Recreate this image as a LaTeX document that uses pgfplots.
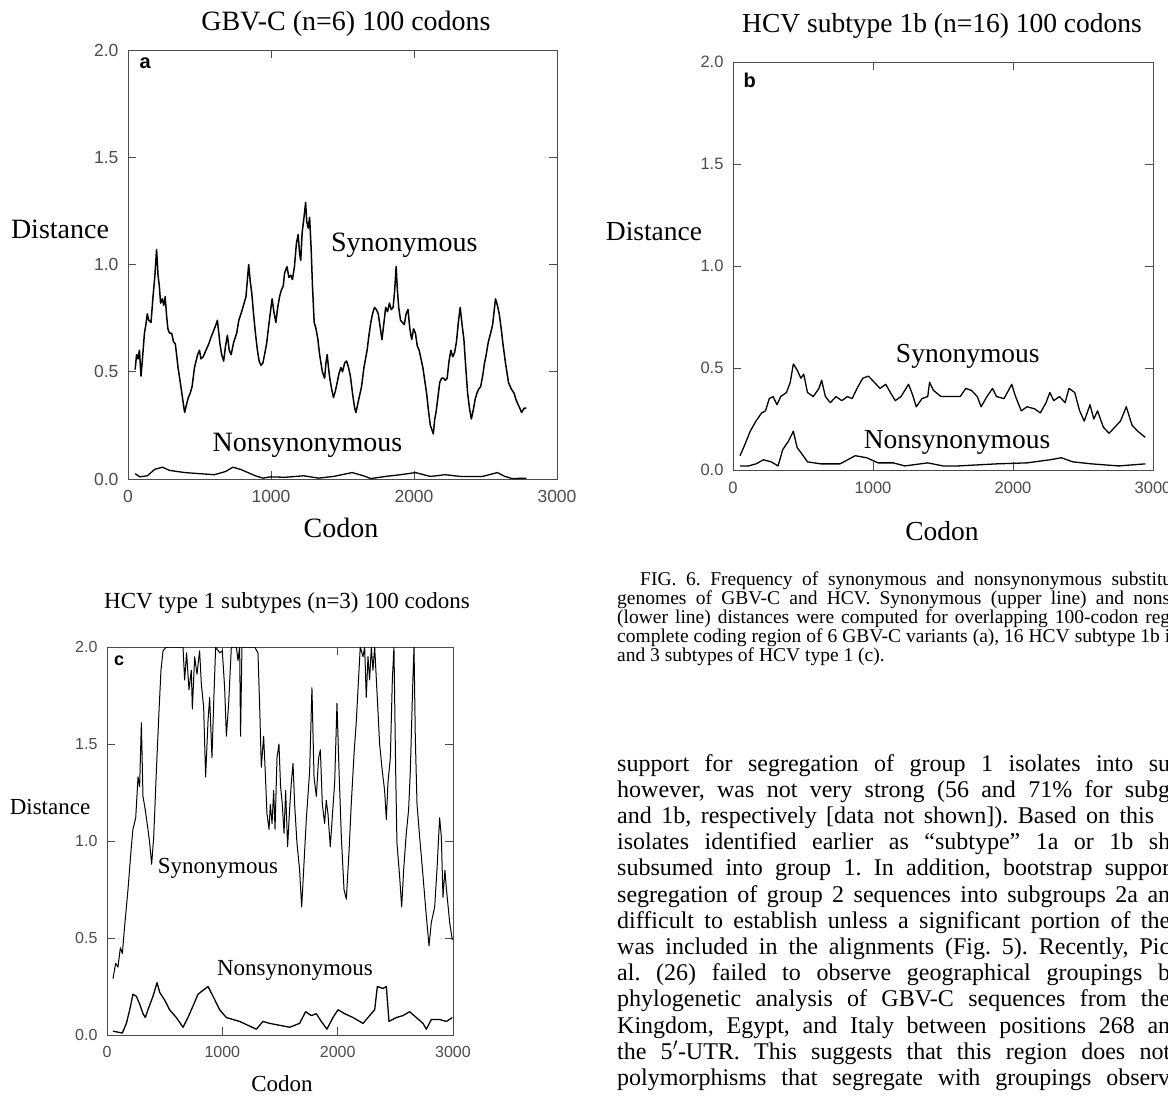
\documentclass[border=0pt]{standalone}
\usepackage{fontspec}
\setmainfont{Liberation Serif}
\newfontfamily\helv{Liberation Sans}
\usepackage{pgfplots}
\pgfplotsset{compat=1.18}
\pgfplotsset{panel/.style={scale only axis, xmin=0, xmax=3000, ymin=0, ymax=2,
  xtick={0,1000,2000,3000}, ytick={0,0.5,1,1.5,2},
  tick align=inside, major tick length=8pt,
  axis line style={line width=0.9pt, black!70},
  every tick/.style={line width=0.9pt, black!70},
  /pgf/number format/assume math mode=true,
  xticklabel style={/pgf/number format/1000 sep={}, yshift=-8pt},
  yticklabel style={/pgf/number format/fixed, /pgf/number format/fixed zerofill, /pgf/number format/precision=1, xshift=-6pt},
  tick label style={text=black!70},
  clip=true}}
\tikzset{curve/.style={black, no markers, line width=1.3pt, line join=round}}
\frenchspacing
\begin{document}
\begin{tikzpicture}
\useasboundingbox (0,0) rectangle (1168pt,-1097pt);
\clip (0,0) rectangle (1168pt,-1097pt);
\fill[white] (0,0) rectangle (1168pt,-1097pt);

% ---------- panel a ----------
\begin{axis}[panel, at={(128pt,-479pt)}, anchor=south west, width=429pt, height=429pt,
  tick label style={font=\helv\fontsize{17.5}{20}\selectfont}]
\addplot[curve, line width=1.5pt] coordinates {(50,0.51)(60,0.58)(70,0.56)(80,0.60)(91,0.48)(100,0.55)(115,0.68)(125,0.72)(135,0.77)(145,0.74)(161,0.73)(175,0.85)(187,0.94)(195,1.02)(200,1.07)(210,0.95)(219,0.90)(228,0.82)(240,0.84)(250,0.81)(260,0.85)(270,0.76)(279,0.70)(290,0.68)(305,0.68)(318,0.64)(331,0.63)(350,0.52)(370,0.43)(385,0.36)(396,0.31)(410,0.35)(422,0.38)(435,0.40)(448,0.43)(465,0.52)(487,0.58)(500,0.60)(510,0.56)(526,0.57)(545,0.60)(565,0.63)(580,0.66)(604,0.70)(615,0.72)(625,0.74)(635,0.68)(643,0.63)(655,0.58)(669,0.55)(682,0.62)(695,0.67)(708,0.60)(721,0.58)(740,0.64)(760,0.68)(775,0.74)(790,0.77)(799,0.79)(812,0.82)(825,0.85)(835,0.93)(844,1.00)(855,0.92)(865,0.87)(878,0.77)(891,0.68)(905,0.60)(917,0.55)(930,0.53)(943,0.54)(955,0.58)(969,0.63)(985,0.72)(1000,0.80)(1008,0.84)(1020,0.78)(1034,0.73)(1047,0.80)(1060,0.85)(1072,0.88)(1086,0.90)(1095,0.96)(1112,0.99)(1125,0.94)(1138,0.95)(1150,0.93)(1164,0.99)(1178,1.10)(1190,1.14)(1200,1.05)(1208,1.02)(1218,1.15)(1229,1.21)(1236,1.25)(1242,1.29)(1250,1.20)(1260,1.17)(1270,1.22)(1281,1.07)(1290,0.90)(1302,0.73)(1315,0.70)(1328,0.65)(1340,0.58)(1352,0.53)(1359,0.50)(1375,0.47)(1384,0.54)(1393,0.58)(1402,0.52)(1411,0.47)(1424,0.42)(1437,0.38)(1450,0.41)(1463,0.45)(1475,0.49)(1489,0.52)(1500,0.50)(1515,0.54)(1529,0.55)(1542,0.52)(1555,0.48)(1570,0.40)(1585,0.33)(1594,0.31)(1610,0.36)(1633,0.43)(1650,0.52)(1672,0.60)(1685,0.67)(1698,0.73)(1710,0.77)(1724,0.80)(1737,0.79)(1750,0.77)(1763,0.71)(1776,0.65)(1790,0.73)(1802,0.80)(1815,0.78)(1828,0.82)(1841,0.79)(1854,0.80)(1865,0.88)(1875,0.99)(1884,0.88)(1893,0.80)(1906,0.74)(1919,0.73)(1932,0.72)(1945,0.77)(1958,0.79)(1971,0.70)(1984,0.65)(1997,0.70)(2010,0.68)(2023,0.62)(2036,0.60)(2049,0.56)(2062,0.52)(2075,0.46)(2088,0.40)(2101,0.32)(2114,0.25)(2125,0.23)(2135,0.21)(2145,0.28)(2154,0.31)(2167,0.38)(2180,0.45)(2193,0.47)(2206,0.47)(2219,0.46)(2232,0.47)(2245,0.55)(2258,0.60)(2271,0.57)(2284,0.59)(2297,0.64)(2310,0.73)(2323,0.80)(2336,0.72)(2349,0.65)(2362,0.52)(2375,0.40)(2388,0.33)(2401,0.28)(2414,0.32)(2427,0.37)(2440,0.40)(2453,0.42)(2466,0.43)(2480,0.48)(2493,0.54)(2505,0.58)(2520,0.64)(2536,0.68)(2550,0.72)(2560,0.78)(2570,0.84)(2583,0.81)(2596,0.77)(2610,0.70)(2622,0.63)(2640,0.54)(2661,0.45)(2680,0.42)(2700,0.40)(2713,0.37)(2726,0.35)(2740,0.33)(2752,0.31)(2770,0.33)(2786,0.33)};
\addplot[curve] coordinates {(50,0.025)(83,0.01)(135,0.015)(187,0.045)(240,0.055)(292,0.04)(396,0.03)(500,0.025)(604,0.02)(682,0.035)(734,0.055)(786,0.045)(891,0.015)(943,0.004)(995,0.01)(1099,0.008)(1229,0.015)(1333,0.004)(1437,0.012)(1568,0.03)(1646,0.015)(1698,0.002)(1802,0.012)(1906,0.02)(2010,0.03)(2114,0.012)(2219,0.02)(2323,0.012)(2479,0.012)(2583,0.03)(2635,0.012)(2687,0.002)(2786,0.004)};
\node[font=\fontsize{28}{32}\selectfont] at (axis cs:1932,1.09) {Synonymous};
\node[font=\fontsize{28}{32}\selectfont] at (axis cs:1255,0.155) {Nonsynonymous};
\node[font=\helv\bfseries\fontsize{20}{24}\selectfont] at (rel axis cs:0.04,0.97) {a};
\end{axis}
\node[font=\fontsize{28}{32}\selectfont] at (346pt,-24pt) {GBV-C (n=6) 100 codons};
\node[font=\fontsize{28}{32}\selectfont] at (60pt,-229pt) {Distance};
\node[font=\fontsize{28}{32}\selectfont] at (341pt,-528pt) {Codon};

% ---------- panel b ----------
\begin{axis}[panel, at={(733pt,-470pt)}, anchor=south west, width=420pt, height=408pt,
  tick label style={font=\helv\fontsize{16.5}{20}\selectfont}]
\addplot[curve] coordinates {(50,0.07)(82,0.12)(123,0.19)(164,0.24)(205,0.28)(232,0.29)(259,0.35)(286,0.36)(314,0.32)(341,0.36)(382,0.38)(409,0.43)(431,0.52)(458,0.49)(485,0.45)(505,0.47)(532,0.38)(573,0.36)(614,0.40)(633,0.44)(660,0.36)(695,0.33)(736,0.36)(777,0.34)(818,0.36)(851,0.35)(886,0.40)(927,0.45)(968,0.46)(1009,0.43)(1050,0.40)(1091,0.42)(1124,0.38)(1159,0.34)(1200,0.36)(1254,0.42)(1282,0.37)(1309,0.31)(1350,0.35)(1391,0.36)(1404,0.43)(1432,0.39)(1486,0.36)(1554,0.36)(1623,0.36)(1663,0.40)(1704,0.39)(1745,0.36)(1772,0.31)(1814,0.36)(1854,0.40)(1882,0.36)(1936,0.35)(1991,0.42)(2018,0.36)(2059,0.29)(2100,0.31)(2154,0.30)(2195,0.28)(2236,0.33)(2263,0.38)(2291,0.34)(2332,0.36)(2372,0.33)(2400,0.40)(2441,0.38)(2476,0.29)(2509,0.24)(2550,0.32)(2577,0.25)(2604,0.29)(2645,0.21)(2686,0.18)(2727,0.21)(2768,0.24)(2809,0.31)(2850,0.22)(2891,0.19)(2945,0.16)};
\addplot[curve] coordinates {(50,0.02)(110,0.02)(164,0.03)(218,0.05)(273,0.04)(322,0.02)(355,0.10)(395,0.14)(431,0.19)(458,0.11)(491,0.08)(532,0.04)(627,0.03)(764,0.03)(873,0.07)(955,0.06)(1036,0.035)(1145,0.035)(1227,0.02)(1391,0.035)(1500,0.02)(1609,0.02)(1882,0.03)(2100,0.035)(2263,0.05)(2345,0.06)(2427,0.04)(2563,0.03)(2754,0.02)(2945,0.03)};
\node[font=\fontsize{27.5}{32}\selectfont] at (axis cs:1677,0.556) {Synonymous};
\node[font=\fontsize{27.5}{32}\selectfont] at (axis cs:1600,0.136) {Nonsynonymous};
\node[font=\helv\bfseries\fontsize{20}{24}\selectfont] at (rel axis cs:0.04,0.955) {b};
\end{axis}
\node[font=\fontsize{27.5}{32}\selectfont] at (942pt,-26pt) {HCV subtype 1b (n=16) 100 codons};
\node[font=\fontsize{27.5}{32}\selectfont] at (654pt,-232pt) {Distance};
\node[font=\fontsize{27.5}{32}\selectfont] at (942pt,-531pt) {Codon};

% ---------- panel c ----------
\begin{axis}[panel, at={(107pt,-1035pt)}, anchor=south west, width=346pt, height=388pt,
  tick label style={font=\helv\fontsize{16}{20}\selectfont}]
\addplot[curve, line width=1pt] coordinates {(52,0.29)(75,0.37)(95,0.35)(116,0.45)(133,0.42)(153,0.56)(182,0.75)(211,0.97)(225,1.06)(249,1.12)(269,1.33)(283,1.28)(298,1.61)(312,1.23)(332,1.16)(355,1.06)(370,0.99)(387,0.88)(405,1.02)(428,1.36)(451,1.67)(468,1.88)(486,1.98)(514,2.0)(659,2.0)(673,1.83)(690,1.97)(711,1.78)(731,1.88)(740,1.68)(760,1.95)(780,1.86)(803,1.98)(818,1.81)(838,1.69)(855,1.33)(876,1.62)(890,1.74)(910,1.43)(925,1.71)(942,2.0)(977,1.97)(1000,1.98)(1020,1.79)(1035,1.54)(1055,1.71)(1078,2.0)(1122,2.0)(1136,1.93)(1150,2.0)(1158,1.54)(1170,2.0)(1280,2.0)(1309,1.97)(1323,1.71)(1338,1.38)(1358,1.54)(1372,1.36)(1387,1.14)(1405,1.06)(1416,1.19)(1431,1.09)(1445,1.26)(1457,1.06)(1474,1.43)(1491,1.50)(1505,1.28)(1520,1.19)(1535,1.04)(1549,1.26)(1566,0.97)(1583,1.16)(1598,1.30)(1613,1.40)(1627,1.19)(1647,0.99)(1670,0.85)(1688,0.66)(1705,0.85)(1728,1.11)(1757,1.36)(1777,1.79)(1795,1.33)(1815,1.23)(1835,1.43)(1850,1.47)(1867,1.19)(1887,1.09)(1901,1.21)(1916,1.14)(1936,0.97)(1953,1.12)(1974,1.30)(1994,1.71)(2012,1.36)(2032,1.02)(2055,0.75)(2075,0.70)(2098,0.94)(2118,1.19)(2142,1.45)(2162,1.62)(2185,1.88)(2196,2.0)(2220,1.95)(2234,2.0)(2248,1.74)(2263,1.95)(2277,1.83)(2292,2.0)(2306,1.88)(2321,2.0)(2364,1.50)(2387,1.36)(2407,1.26)(2422,1.11)(2436,1.30)(2457,1.43)(2474,1.83)(2488,2.0)(2503,1.36)(2514,0.99)(2537,0.82)(2555,0.66)(2572,0.85)(2595,1.04)(2615,1.16)(2630,1.36)(2653,1.85)(2662,2.0)(2673,1.54)(2688,1.19)(2711,1.02)(2740,0.82)(2769,0.61)(2792,0.46)(2812,0.58)(2841,0.66)(2861,0.85)(2884,1.12)(2899,1.02)(2913,0.71)(2930,0.85)(2942,0.76)(2971,0.58)(2994,0.49)};
\addplot[curve] coordinates {(52,0.02)(133,0.01)(168,0.06)(197,0.13)(225,0.21)(254,0.20)(283,0.16)(312,0.11)(332,0.09)(355,0.13)(399,0.20)(434,0.27)(457,0.22)(500,0.18)(543,0.13)(601,0.09)(659,0.04)(702,0.09)(746,0.15)(789,0.21)(832,0.23)(876,0.25)(919,0.20)(977,0.13)(1035,0.09)(1092,0.08)(1150,0.07)(1222,0.05)(1295,0.03)(1352,0.07)(1410,0.06)(1497,0.05)(1584,0.04)(1670,0.06)(1722,0.12)(1772,0.10)(1815,0.11)(1858,0.07)(1907,0.03)(1959,0.09)(2003,0.13)(2061,0.11)(2133,0.09)(2220,0.06)(2277,0.10)(2321,0.13)(2344,0.25)(2393,0.24)(2422,0.25)(2445,0.07)(2508,0.09)(2566,0.10)(2624,0.12)(2682,0.09)(2740,0.06)(2769,0.03)(2812,0.08)(2884,0.08)(2942,0.07)(2994,0.09)};
\node[font=\fontsize{23}{27}\selectfont] at (axis cs:962,0.86) {Synonymous};
\node[font=\fontsize{23}{27}\selectfont] at (axis cs:1630,0.335) {Nonsynonymous};
\node[font=\helv\bfseries\fontsize{18}{22}\selectfont] at (rel axis cs:0.035,0.965) {c};
\end{axis}
\node[font=\fontsize{23}{27}\selectfont] at (287pt,-603pt) {HCV type 1 subtypes (n=3) 100 codons};
\node[font=\fontsize{23}{27}\selectfont] at (50pt,-807pt) {Distance};
\node[font=\fontsize{23}{27}\selectfont] at (282pt,-1084pt) {Codon};

% ---------- caption ----------
\begin{scope}[every node/.style={anchor=base west, inner sep=0pt, font=\fontsize{19.5}{19}\selectfont}]
\node at (640pt,-585pt) {\makebox[532pt][s]{FIG. 6. Frequency of synonymous and nonsynonymous substitu}};
\node at (617pt,-604pt) {\makebox[553pt][s]{genomes of GBV-C and HCV. Synonymous (upper line) and nons}};
\node at (617pt,-623pt) {\makebox[553pt][s]{(lower line) distances were computed for overlapping 100-codon reg}};
\node at (617pt,-642pt) {\makebox[553pt][s]{complete coding region of 6 GBV-C variants (a), 16 HCV subtype 1b i}};
\node at (617pt,-661pt) {and 3 subtypes of HCV type 1 (c).};
\end{scope}

% ---------- body text ----------
\begin{scope}[every node/.style={anchor=base west, inner sep=0pt, font=\fontsize{24}{26}\selectfont}]
\node at (617pt,-771pt) {\makebox[553pt][s]{support for segregation of group 1 isolates into su}};
\node at (617pt,-797.2pt) {\makebox[553pt][s]{however, was not very strong (56 and 71\% for subg}};
\node at (617pt,-823.4pt) {\makebox[553pt][s]{and 1b, respectively [data not shown]). Based on this\hspace{16pt}}};
\node at (617pt,-849.6pt) {\makebox[553pt][s]{isolates identified earlier as “subtype” 1a or 1b sh}};
\node at (617pt,-875.8pt) {\makebox[553pt][s]{subsumed into group 1. In addition, bootstrap suppor}};
\node at (617pt,-902pt) {\makebox[553pt][s]{segregation of group 2 sequences into subgroups 2a an}};
\node at (617pt,-928.2pt) {\makebox[553pt][s]{difficult to establish unless a significant portion of the}};
\node at (617pt,-954.4pt) {\makebox[553pt][s]{was included in the alignments (Fig. 5). Recently, Pic}};
\node at (617pt,-980.6pt) {\makebox[553pt][s]{al. (26) failed to observe geographical groupings b}};
\node at (617pt,-1006.8pt) {\makebox[553pt][s]{phylogenetic analysis of GBV-C sequences from the}};
\node at (617pt,-1033pt) {\makebox[553pt][s]{Kingdom, Egypt, and Italy between positions 268 an}};
\node at (617pt,-1059.2pt) {\makebox[553pt][s]{the 5$'$-UTR. This suggests that this region does not}};
\node at (617pt,-1085.4pt) {\makebox[553pt][s]{polymorphisms that segregate with groupings observ}};
\end{scope}
\end{tikzpicture}
\end{document}
